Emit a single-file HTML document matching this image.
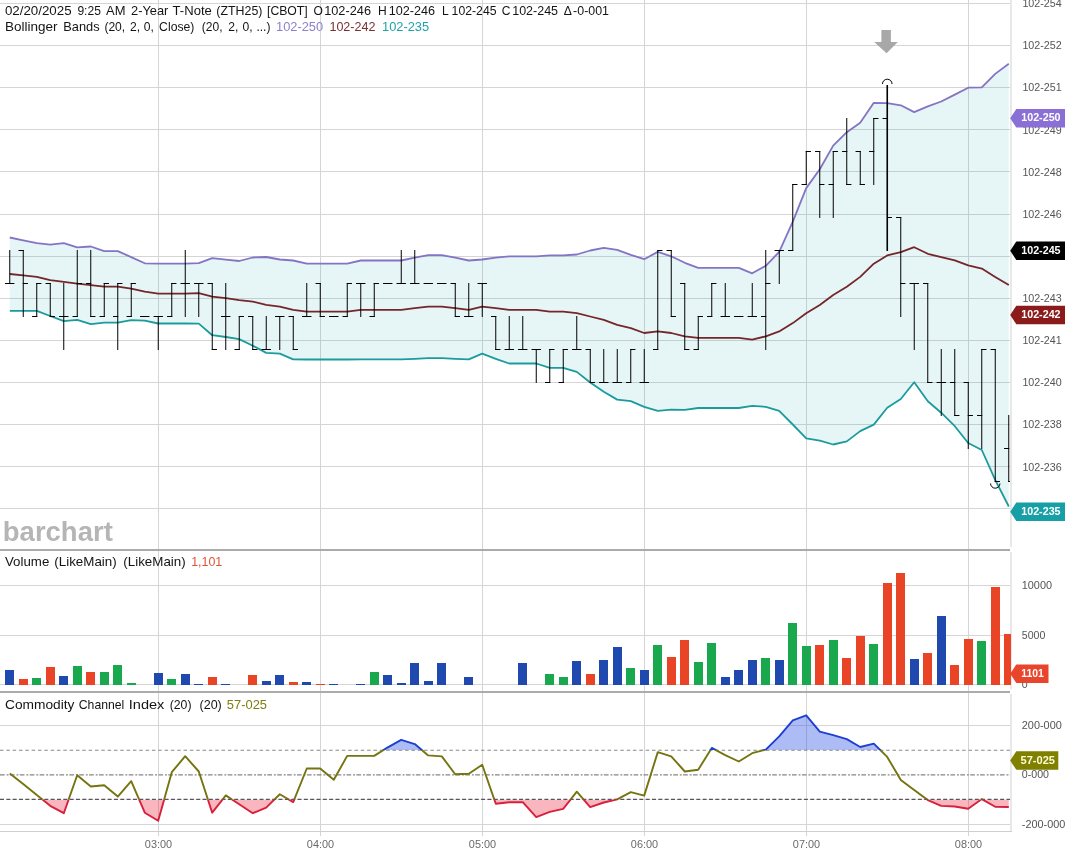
<!DOCTYPE html><html><head><meta charset="utf-8"><title>2-Year T-Note (ZTH25) Chart</title>
<style>html,body{margin:0;padding:0;background:#fff;}body{width:1069px;height:857px;overflow:hidden;}svg{display:block;}text{font-family:"Liberation Sans", sans-serif;}</style></head><body>
<svg width="1069" height="857" viewBox="0 0 1069 857">
<rect width="1069" height="857" fill="#ffffff"/>
<defs><clipPath id="cm"><rect x="0" y="0" width="1010" height="549"/></clipPath><clipPath id="cv"><rect x="0" y="551" width="1011" height="140"/></clipPath><clipPath id="cc"><rect x="0" y="693" width="1010" height="138"/></clipPath></defs>
<g shape-rendering="crispEdges" stroke="#d5d5d5" stroke-width="1"><line x1="0" x2="1011" y1="3.5" y2="3.5"/><line x1="0" x2="1011" y1="45.5" y2="45.5"/><line x1="0" x2="1011" y1="87.5" y2="87.5"/><line x1="0" x2="1011" y1="129.5" y2="129.5"/><line x1="0" x2="1011" y1="171.5" y2="171.5"/><line x1="0" x2="1011" y1="214.5" y2="214.5"/><line x1="0" x2="1011" y1="256.5" y2="256.5"/><line x1="0" x2="1011" y1="298.5" y2="298.5"/><line x1="0" x2="1011" y1="340.5" y2="340.5"/><line x1="0" x2="1011" y1="382.5" y2="382.5"/><line x1="0" x2="1011" y1="424.5" y2="424.5"/><line x1="0" x2="1011" y1="466.5" y2="466.5"/><line x1="0" x2="1011" y1="508.5" y2="508.5"/><line x1="158.5" x2="158.5" y1="0" y2="836"/><line x1="320.5" x2="320.5" y1="0" y2="836"/><line x1="482.5" x2="482.5" y1="0" y2="836"/><line x1="644.5" x2="644.5" y1="0" y2="836"/><line x1="806.5" x2="806.5" y1="0" y2="836"/><line x1="968.5" x2="968.5" y1="0" y2="836"/><line x1="0" x2="1011" y1="585.5" y2="585.5"/><line x1="0" x2="1011" y1="635.5" y2="635.5"/><line x1="0" x2="1011" y1="684.5" y2="684.5"/><line x1="0" x2="1011" y1="725.5" y2="725.5"/><line x1="0" x2="1011" y1="824.5" y2="824.5"/></g>
<polygon points="9.8,237.5 23.2,240.3 36.8,243.1 50.2,244.6 63.8,243.1 77.2,247.4 90.8,246.5 104.2,251.1 117.8,251.1 131.2,257.1 144.8,263.3 158.2,263.7 171.8,263.7 185.2,263.7 198.8,263.1 212.2,258.2 225.8,259.6 239.2,261.0 252.8,257.5 266.2,257.0 279.8,259.5 293.2,260.5 306.8,263.6 320.2,263.6 333.8,263.6 347.2,263.6 360.8,260.5 374.2,260.5 387.8,260.5 401.2,260.5 414.8,257.7 428.2,255.1 441.8,255.1 455.2,257.7 468.8,260.5 482.2,259.5 495.8,257.7 509.2,256.3 522.8,256.3 536.2,256.3 549.8,255.3 563.2,255.3 576.8,254.5 590.2,250.5 603.8,247.8 617.2,249.9 630.8,254.9 644.2,259.2 657.8,251.9 671.2,256.3 684.8,262.8 698.2,267.9 711.8,267.9 725.2,267.9 738.8,267.9 752.2,273.3 765.8,265.8 779.2,251.9 792.8,221.7 806.2,188.1 819.8,169.2 833.2,145.6 846.8,132.2 860.2,122.7 873.8,102.8 887.2,103.1 900.8,105.3 914.2,112.1 927.8,106.4 941.2,101.5 954.8,94.6 968.2,87.7 981.8,87.3 995.2,73.9 1008.8,63.8 1008.8,506.5 995.2,479.9 981.8,450.0 968.2,443.0 954.8,426.2 941.2,412.7 927.8,401.2 914.2,382.3 900.8,399.0 887.2,407.8 873.8,424.6 860.2,431.1 846.8,441.4 833.2,444.5 819.8,440.7 806.2,438.3 792.8,424.5 779.2,410.8 765.8,406.8 752.2,405.9 738.8,408.0 725.2,408.0 711.8,408.0 698.2,408.0 684.8,409.8 671.2,409.7 657.8,410.8 644.2,406.8 630.8,401.2 617.2,399.6 603.8,391.8 590.2,382.5 576.8,371.9 563.2,367.8 549.8,367.8 536.2,363.5 522.8,363.5 509.2,363.5 495.8,358.8 482.2,353.7 468.8,359.3 455.2,358.8 441.8,358.1 428.2,358.1 414.8,358.8 401.2,359.3 387.8,359.3 374.2,359.3 360.8,359.3 347.2,359.5 333.8,359.5 320.2,359.5 306.8,359.5 293.2,359.3 279.8,353.7 266.2,352.9 252.8,345.7 239.2,339.1 225.8,337.0 212.2,335.2 198.8,323.6 185.2,323.5 171.8,323.5 158.2,323.5 144.8,320.7 131.2,320.2 117.8,322.6 104.2,322.6 90.8,324.1 77.2,319.8 63.8,321.1 50.2,316.0 36.8,310.8 23.2,310.8 9.8,310.8" fill="#1aa0aa" fill-opacity="0.11" clip-path="url(#cm)"/>
<g shape-rendering="crispEdges"><rect x="1010" y="0" width="2" height="547" fill="#e8e8e8"/><rect x="1010" y="552" width="2" height="137" fill="#e8e8e8"/><rect x="1010" y="694" width="2" height="138" fill="#e8e8e8"/><rect x="0" y="549" width="1010" height="2" fill="#ababab"/><rect x="0" y="691" width="1010" height="2" fill="#ababab"/><rect x="0" y="831" width="1012" height="1" fill="#cfcfcf"/></g>
<g clip-path="url(#cm)">
<polyline points="9.8,237.5 23.2,240.3 36.8,243.1 50.2,244.6 63.8,243.1 77.2,247.4 90.8,246.5 104.2,251.1 117.8,251.1 131.2,257.1 144.8,263.3 158.2,263.7 171.8,263.7 185.2,263.7 198.8,263.1 212.2,258.2 225.8,259.6 239.2,261.0 252.8,257.5 266.2,257.0 279.8,259.5 293.2,260.5 306.8,263.6 320.2,263.6 333.8,263.6 347.2,263.6 360.8,260.5 374.2,260.5 387.8,260.5 401.2,260.5 414.8,257.7 428.2,255.1 441.8,255.1 455.2,257.7 468.8,260.5 482.2,259.5 495.8,257.7 509.2,256.3 522.8,256.3 536.2,256.3 549.8,255.3 563.2,255.3 576.8,254.5 590.2,250.5 603.8,247.8 617.2,249.9 630.8,254.9 644.2,259.2 657.8,251.9 671.2,256.3 684.8,262.8 698.2,267.9 711.8,267.9 725.2,267.9 738.8,267.9 752.2,273.3 765.8,265.8 779.2,251.9 792.8,221.7 806.2,188.1 819.8,169.2 833.2,145.6 846.8,132.2 860.2,122.7 873.8,102.8 887.2,103.1 900.8,105.3 914.2,112.1 927.8,106.4 941.2,101.5 954.8,94.6 968.2,87.7 981.8,87.3 995.2,73.9 1008.8,63.8" fill="none" stroke="#8374c4" stroke-width="1.8" stroke-linejoin="round" />
<polyline points="9.8,274.0 23.2,275.3 36.8,276.8 50.2,280.1 63.8,281.8 77.2,283.7 90.8,285.2 104.2,286.7 117.8,286.7 131.2,288.6 144.8,291.7 158.2,293.6 171.8,293.6 185.2,293.6 198.8,293.2 212.2,296.7 225.8,298.1 239.2,300.2 252.8,301.6 266.2,304.9 279.8,306.6 293.2,309.9 306.8,311.6 320.2,311.6 333.8,311.6 347.2,311.6 360.8,309.9 374.2,309.9 387.8,309.9 401.2,309.9 414.8,308.2 428.2,306.6 441.8,306.6 455.2,308.2 468.8,309.9 482.2,306.6 495.8,308.2 509.2,309.9 522.8,309.9 536.2,309.9 549.8,311.6 563.2,311.6 576.8,313.2 590.2,316.5 603.8,319.8 617.2,324.8 630.8,328.1 644.2,333.0 657.8,331.4 671.2,333.0 684.8,336.3 698.2,337.9 711.8,337.9 725.2,337.9 738.8,337.9 752.2,339.6 765.8,336.3 779.2,331.4 792.8,323.1 806.2,313.2 819.8,304.9 833.2,295.1 846.8,286.8 860.2,276.9 873.8,263.7 887.2,255.4 900.8,252.2 914.2,247.2 927.8,253.8 941.2,257.1 954.8,260.4 968.2,265.4 981.8,268.6 995.2,276.9 1008.8,285.1" fill="none" stroke="#75262b" stroke-width="1.8" stroke-linejoin="round" />
<polyline points="9.8,310.8 23.2,310.8 36.8,310.8 50.2,316.0 63.8,321.1 77.2,319.8 90.8,324.1 104.2,322.6 117.8,322.6 131.2,320.2 144.8,320.7 158.2,323.5 171.8,323.5 185.2,323.5 198.8,323.6 212.2,335.2 225.8,337.0 239.2,339.1 252.8,345.7 266.2,352.9 279.8,353.7 293.2,359.3 306.8,359.5 320.2,359.5 333.8,359.5 347.2,359.5 360.8,359.3 374.2,359.3 387.8,359.3 401.2,359.3 414.8,358.8 428.2,358.1 441.8,358.1 455.2,358.8 468.8,359.3 482.2,353.7 495.8,358.8 509.2,363.5 522.8,363.5 536.2,363.5 549.8,367.8 563.2,367.8 576.8,371.9 590.2,382.5 603.8,391.8 617.2,399.6 630.8,401.2 644.2,406.8 657.8,410.8 671.2,409.7 684.8,409.8 698.2,408.0 711.8,408.0 725.2,408.0 738.8,408.0 752.2,405.9 765.8,406.8 779.2,410.8 792.8,424.5 806.2,438.3 819.8,440.7 833.2,444.5 846.8,441.4 860.2,431.1 873.8,424.6 887.2,407.8 900.8,399.0 914.2,382.3 927.8,401.2 941.2,412.7 954.8,426.2 968.2,443.0 981.8,450.0 995.2,479.9 1008.8,506.5" fill="none" stroke="#1b9b9c" stroke-width="1.8" stroke-linejoin="round" />
<path d="M9.75 250.0V284.0M5.05 283.5H10.25M9.25 283.5H14.45M23.25 250.0V317.0M18.55 250.5H23.75M22.75 283.5H27.95M36.75 283.0V317.0M32.05 316.5H37.25M36.25 283.5H41.45M50.25 283.0V317.0M45.55 283.5H50.75M49.75 316.5H54.95M63.75 283.0V350.0M59.05 316.5H64.25M63.25 316.5H68.45M77.25 250.0V317.0M72.55 316.5H77.75M76.75 283.5H81.95M90.75 250.0V317.0M86.05 283.5H91.25M90.25 316.5H95.45M104.25 283.0V317.0M99.55 316.5H104.75M103.75 283.5H108.95M117.75 283.0V350.0M113.05 316.5H118.25M117.25 283.5H122.45M131.25 283.0V317.0M126.55 316.5H131.75M130.75 283.5H135.95M140.05 316.5H145.25M144.25 316.5H149.45M158.25 316.0V350.0M153.55 316.5H158.75M157.75 316.5H162.95M171.75 283.0V317.0M167.05 316.5H172.25M171.25 283.5H176.45M185.25 250.0V317.0M180.55 283.5H185.75M184.75 283.5H189.95M198.75 283.0V317.0M194.05 283.5H199.25M198.25 283.5H203.45M212.25 283.0V350.0M207.55 283.5H212.75M211.75 349.5H216.95M225.75 283.0V350.0M221.05 316.5H226.25M225.25 316.5H230.45M239.25 316.0V350.0M234.55 349.5H239.75M238.75 316.5H243.95M252.75 316.0V350.0M248.05 316.5H253.25M252.25 349.5H257.45M266.25 316.0V350.0M261.55 349.5H266.75M265.75 349.5H270.95M279.75 316.0V350.0M275.05 316.5H280.25M279.25 316.5H284.45M293.25 316.0V350.0M288.55 316.5H293.75M292.75 349.5H297.95M306.75 283.0V317.0M302.05 316.5H307.25M306.25 316.5H311.45M320.25 283.0V317.0M315.55 283.5H320.75M319.75 316.5H324.95M329.05 316.5H334.25M333.25 316.5H338.45M347.25 283.0V317.0M342.55 316.5H347.75M346.75 283.5H351.95M360.75 283.0V317.0M356.05 283.5H361.25M360.25 283.5H365.45M374.25 283.0V317.0M369.55 316.5H374.75M373.75 283.5H378.95M383.05 283.5H388.25M387.25 283.5H392.45M401.25 250.0V284.0M396.55 283.5H401.75M400.75 283.5H405.95M414.75 250.0V284.0M410.05 283.5H415.25M414.25 283.5H419.45M423.55 283.5H428.75M427.75 283.5H432.95M437.05 283.5H442.25M441.25 283.5H446.45M455.25 283.0V317.0M450.55 283.5H455.75M454.75 316.5H459.95M468.75 283.0V317.0M464.05 316.5H469.25M468.25 316.5H473.45M482.25 283.0V317.0M477.55 283.5H482.75M481.75 283.5H486.95M495.75 316.0V350.0M491.05 316.5H496.25M495.25 349.5H500.45M509.25 316.0V350.0M504.55 349.5H509.75M508.75 349.5H513.95M522.75 316.0V350.0M518.05 349.5H523.25M522.25 349.5H527.45M536.25 349.0V383.0M531.55 349.5H536.75M535.75 349.5H540.95M549.75 349.0V383.0M545.05 382.5H550.25M549.25 349.5H554.45M563.25 349.0V383.0M558.55 382.5H563.75M562.75 349.5H567.95M576.75 316.0V350.0M572.05 349.5H577.25M576.25 349.5H581.45M590.25 349.0V383.0M585.55 349.5H590.75M589.75 382.5H594.95M603.75 349.0V383.0M599.05 382.5H604.25M603.25 382.5H608.45M617.25 349.0V383.0M612.55 382.5H617.75M616.75 382.5H621.95M630.75 349.0V383.0M626.05 382.5H631.25M630.25 349.5H635.45M644.25 349.0V383.0M639.55 382.5H644.75M643.75 382.5H648.95M657.75 250.0V350.0M653.05 349.5H658.25M657.25 250.5H662.45M671.25 250.0V317.0M666.55 250.5H671.75M670.75 316.5H675.95M684.75 283.0V350.0M680.05 283.5H685.25M684.25 349.5H689.45M698.25 316.0V350.0M693.55 349.5H698.75M697.75 316.5H702.95M711.75 283.0V317.0M707.05 316.5H712.25M711.25 283.5H716.45M725.25 283.0V317.0M720.55 316.5H725.75M724.75 316.5H729.95M734.05 316.5H739.25M738.25 316.5H743.45M752.25 283.0V317.0M747.55 316.5H752.75M751.75 316.5H756.95M765.75 250.0V350.0M761.05 316.5H766.25M765.25 283.5H770.45M779.25 250.0V284.0M774.55 250.5H779.75M778.75 250.5H783.95M792.75 184.0V251.0M788.05 250.5H793.25M792.25 184.5H797.45M806.25 151.0V185.0M801.55 184.5H806.75M805.75 151.5H810.95M819.75 151.0V218.0M815.05 151.5H820.25M819.25 184.5H824.45M833.25 151.0V218.0M828.55 184.5H833.75M832.75 151.5H837.95M846.75 118.0V185.0M842.05 151.5H847.25M846.25 184.5H851.45M860.25 151.0V185.0M855.55 151.5H860.75M859.75 184.5H864.95M873.75 118.0V185.0M869.05 151.5H874.25M873.25 118.5H878.45M900.75 217.0V317.0M896.05 217.5H901.25M900.25 283.5H905.45M914.25 283.0V350.0M909.55 283.5H914.75M913.75 283.5H918.95M927.75 283.0V383.0M923.05 283.5H928.25M927.25 382.5H932.45M941.25 349.0V416.0M936.55 382.5H941.75M940.75 382.5H945.95M954.75 349.0V416.0M950.05 382.5H955.25M954.25 415.5H959.45M968.25 382.0V449.0M963.55 382.5H968.75M967.75 415.5H972.95M981.75 349.0V449.0M977.05 415.5H982.25M981.25 349.5H986.45M995.25 349.0V482.0M990.55 349.5H995.75M994.75 481.5H999.95M1008.75 415.0V482.0M1004.05 448.5H1009.25M1008.25 481.5H1013.45" stroke="#000" stroke-width="1" fill="none"/>
<path d="M887.25 85.0V251.0" stroke="#000" stroke-width="1.6" fill="none"/>
<path d="M882.55 118.5H887.25M887.25 217.5H891.95" stroke="#000" stroke-width="1" fill="none"/>
<path d="M882.45 84A4.8 4.8 0 0 1 892.05 84" stroke="#000" stroke-width="1" fill="none"/>
<path d="M990.55 483.5A4.7 4.7 0 0 0 999.95 483.5" stroke="#000" stroke-width="1" fill="none"/>
</g>
<path d="M881.4 30H890.9V42H897.8L886.6 53.2L874.2 42H881.4Z" fill="#a8a8a8"/>
<text x="2.8" y="540.7" font-size="28" font-weight="bold" fill="#b5b5b5" textLength="110" lengthAdjust="spacingAndGlyphs">barchart</text>
<g clip-path="url(#cv)" shape-rendering="crispEdges">
<rect x="5.00" y="669.8" width="9" height="15.2" fill="#2049b0"/>
<rect x="19.00" y="678.6" width="9" height="6.4" fill="#ea4427"/>
<rect x="32.00" y="677.8" width="9" height="7.2" fill="#1aa84e"/>
<rect x="46.00" y="666.7" width="9" height="18.3" fill="#ea4427"/>
<rect x="59.00" y="675.8" width="9" height="9.2" fill="#2049b0"/>
<rect x="73.00" y="666.0" width="9" height="19.0" fill="#1aa84e"/>
<rect x="86.00" y="672.3" width="9" height="12.7" fill="#ea4427"/>
<rect x="100.00" y="672.3" width="9" height="12.7" fill="#1aa84e"/>
<rect x="113.00" y="664.7" width="9" height="20.3" fill="#1aa84e"/>
<rect x="127.00" y="683.2" width="9" height="1.8" fill="#1aa84e"/>
<rect x="140.00" y="684.5" width="9" height="0.5" fill="#2049b0"/>
<rect x="154.00" y="672.8" width="9" height="12.2" fill="#2049b0"/>
<rect x="167.00" y="679.4" width="9" height="5.6" fill="#1aa84e"/>
<rect x="181.00" y="674.3" width="9" height="10.7" fill="#2049b0"/>
<rect x="194.00" y="683.5" width="9" height="1.5" fill="#2049b0"/>
<rect x="208.00" y="677.1" width="9" height="7.9" fill="#ea4427"/>
<rect x="221.00" y="683.5" width="9" height="1.5" fill="#2049b0"/>
<rect x="235.00" y="684.5" width="9" height="0.5" fill="#1aa84e"/>
<rect x="248.00" y="674.8" width="9" height="10.2" fill="#ea4427"/>
<rect x="262.00" y="680.6" width="9" height="4.4" fill="#2049b0"/>
<rect x="275.00" y="674.8" width="9" height="10.2" fill="#2049b0"/>
<rect x="289.00" y="682.1" width="9" height="2.9" fill="#ea4427"/>
<rect x="302.00" y="682.1" width="9" height="2.9" fill="#2049b0"/>
<rect x="316.00" y="684.2" width="9" height="0.8" fill="#ea4427"/>
<rect x="329.00" y="684.2" width="9" height="0.8" fill="#2049b0"/>
<rect x="343.00" y="684.5" width="9" height="0.5" fill="#1aa84e"/>
<rect x="356.00" y="684.0" width="9" height="1.0" fill="#2049b0"/>
<rect x="370.00" y="672.3" width="9" height="12.7" fill="#1aa84e"/>
<rect x="383.00" y="675.3" width="9" height="9.7" fill="#2049b0"/>
<rect x="397.00" y="683.2" width="9" height="1.8" fill="#2049b0"/>
<rect x="410.00" y="663.4" width="9" height="21.6" fill="#2049b0"/>
<rect x="424.00" y="681.1" width="9" height="3.9" fill="#2049b0"/>
<rect x="437.00" y="663.2" width="9" height="21.8" fill="#2049b0"/>
<rect x="451.00" y="684.5" width="9" height="0.5" fill="#ea4427"/>
<rect x="464.00" y="677.3" width="9" height="7.7" fill="#2049b0"/>
<rect x="478.00" y="684.7" width="9" height="0.3" fill="#2049b0"/>
<rect x="491.00" y="684.5" width="9" height="0.5" fill="#ea4427"/>
<rect x="505.00" y="684.7" width="9" height="0.3" fill="#2049b0"/>
<rect x="518.00" y="662.7" width="9" height="22.3" fill="#2049b0"/>
<rect x="532.00" y="684.7" width="9" height="0.3" fill="#2049b0"/>
<rect x="545.00" y="673.8" width="9" height="11.2" fill="#1aa84e"/>
<rect x="559.00" y="677.3" width="9" height="7.7" fill="#1aa84e"/>
<rect x="572.00" y="661.2" width="9" height="23.8" fill="#2049b0"/>
<rect x="586.00" y="673.8" width="9" height="11.2" fill="#ea4427"/>
<rect x="599.00" y="659.9" width="9" height="25.1" fill="#2049b0"/>
<rect x="613.00" y="647.3" width="9" height="37.7" fill="#2049b0"/>
<rect x="626.00" y="667.7" width="9" height="17.3" fill="#1aa84e"/>
<rect x="640.00" y="670.0" width="9" height="15.0" fill="#2049b0"/>
<rect x="653.00" y="645.2" width="9" height="39.8" fill="#1aa84e"/>
<rect x="667.00" y="656.6" width="9" height="28.4" fill="#ea4427"/>
<rect x="680.00" y="640.2" width="9" height="44.8" fill="#ea4427"/>
<rect x="694.00" y="661.9" width="9" height="23.1" fill="#1aa84e"/>
<rect x="707.00" y="642.7" width="9" height="42.3" fill="#1aa84e"/>
<rect x="721.00" y="677.3" width="9" height="7.7" fill="#2049b0"/>
<rect x="734.00" y="670.3" width="9" height="14.7" fill="#2049b0"/>
<rect x="748.00" y="659.9" width="9" height="25.1" fill="#2049b0"/>
<rect x="761.00" y="657.6" width="9" height="27.4" fill="#1aa84e"/>
<rect x="775.00" y="660.0" width="9" height="25.0" fill="#2049b0"/>
<rect x="788.00" y="622.9" width="9" height="62.1" fill="#1aa84e"/>
<rect x="802.00" y="645.8" width="9" height="39.2" fill="#1aa84e"/>
<rect x="815.00" y="645.0" width="9" height="40.0" fill="#ea4427"/>
<rect x="829.00" y="640.2" width="9" height="44.8" fill="#1aa84e"/>
<rect x="842.00" y="658.1" width="9" height="26.9" fill="#ea4427"/>
<rect x="856.00" y="636.0" width="9" height="49.0" fill="#ea4427"/>
<rect x="869.00" y="644.1" width="9" height="40.9" fill="#1aa84e"/>
<rect x="883.00" y="582.9" width="9" height="102.1" fill="#ea4427"/>
<rect x="896.00" y="572.8" width="9" height="112.2" fill="#ea4427"/>
<rect x="910.00" y="659.2" width="9" height="25.8" fill="#2049b0"/>
<rect x="923.00" y="653.4" width="9" height="31.6" fill="#ea4427"/>
<rect x="937.00" y="615.6" width="9" height="69.4" fill="#2049b0"/>
<rect x="950.00" y="665.1" width="9" height="19.9" fill="#ea4427"/>
<rect x="964.00" y="639.1" width="9" height="45.9" fill="#ea4427"/>
<rect x="977.00" y="640.8" width="9" height="44.2" fill="#1aa84e"/>
<rect x="991.00" y="587.3" width="9" height="97.7" fill="#ea4427"/>
<rect x="1004.00" y="633.8" width="9" height="51.2" fill="#ea4427"/>
</g>
<defs><clipPath id="cup"><rect x="0" y="693" width="1010" height="57.1"/></clipPath><clipPath id="cdn"><rect x="0" y="799.4" width="1010" height="31.6"/></clipPath><clipPath id="cmid"><rect x="0" y="750.1" width="1010" height="49.3"/></clipPath></defs>
<polygon points="9.8,750.1 9.8,773.5 23.2,784.1 36.8,794.9 50.2,805.8 63.8,813.2 77.2,775.2 90.8,786.5 104.2,785.3 117.8,796.6 131.2,781.1 144.8,812.7 158.2,820.8 171.8,772.2 185.2,756.2 198.8,771.5 212.2,812.7 225.8,795.4 239.2,804.3 252.8,813.2 266.2,807.6 279.8,794.2 293.2,802.1 306.8,768.5 320.2,768.5 333.8,779.8 347.2,755.9 360.8,755.9 374.2,755.9 387.8,747.3 401.2,739.8 414.8,744.1 428.2,755.4 441.8,756.4 455.2,774.2 468.8,773.7 482.2,764.7 495.8,803.8 509.2,802.2 522.8,802.2 536.2,817.1 549.8,811.9 563.2,808.9 576.8,791.7 590.2,807.1 603.8,802.5 617.2,799.4 630.8,792.1 644.2,795.6 657.8,752.1 671.2,756.3 684.8,771.5 698.2,769.8 711.8,747.9 725.2,755.1 738.8,761.5 752.2,753.2 765.8,749.6 779.2,736.4 792.8,720.3 806.2,715.3 819.8,731.7 833.2,735.2 846.8,739.1 860.2,747.0 873.8,743.6 887.2,756.9 900.8,780.0 914.2,790.1 927.8,800.1 941.2,805.9 954.8,806.5 968.2,808.8 981.8,799.1 995.2,806.8 1008.8,807.0 1008.8,750.1" fill="#2a50e8" fill-opacity="0.38" clip-path="url(#cup)"/>
<polygon points="9.8,799.4 9.8,773.5 23.2,784.1 36.8,794.9 50.2,805.8 63.8,813.2 77.2,775.2 90.8,786.5 104.2,785.3 117.8,796.6 131.2,781.1 144.8,812.7 158.2,820.8 171.8,772.2 185.2,756.2 198.8,771.5 212.2,812.7 225.8,795.4 239.2,804.3 252.8,813.2 266.2,807.6 279.8,794.2 293.2,802.1 306.8,768.5 320.2,768.5 333.8,779.8 347.2,755.9 360.8,755.9 374.2,755.9 387.8,747.3 401.2,739.8 414.8,744.1 428.2,755.4 441.8,756.4 455.2,774.2 468.8,773.7 482.2,764.7 495.8,803.8 509.2,802.2 522.8,802.2 536.2,817.1 549.8,811.9 563.2,808.9 576.8,791.7 590.2,807.1 603.8,802.5 617.2,799.4 630.8,792.1 644.2,795.6 657.8,752.1 671.2,756.3 684.8,771.5 698.2,769.8 711.8,747.9 725.2,755.1 738.8,761.5 752.2,753.2 765.8,749.6 779.2,736.4 792.8,720.3 806.2,715.3 819.8,731.7 833.2,735.2 846.8,739.1 860.2,747.0 873.8,743.6 887.2,756.9 900.8,780.0 914.2,790.1 927.8,800.1 941.2,805.9 954.8,806.5 968.2,808.8 981.8,799.1 995.2,806.8 1008.8,807.0 1008.8,799.4" fill="#f0203a" fill-opacity="0.33" clip-path="url(#cdn)"/>
<line x1="0" x2="1010" y1="750.2" y2="750.2" stroke="#888888" stroke-width="1.1" stroke-dasharray="3.5 2.83"/>
<line x1="0" x2="1010" y1="799.4" y2="799.4" stroke="#55555e" stroke-width="1.1" stroke-dasharray="4 2.33"/>
<line x1="0" x2="1010" y1="774.9" y2="774.9" stroke="#858585" stroke-width="1.4" stroke-dasharray="4.7 1.9 1.9 1.4"/>
<polyline points="9.8,773.5 23.2,784.1 36.8,794.9 50.2,805.8 63.8,813.2 77.2,775.2 90.8,786.5 104.2,785.3 117.8,796.6 131.2,781.1 144.8,812.7 158.2,820.8 171.8,772.2 185.2,756.2 198.8,771.5 212.2,812.7 225.8,795.4 239.2,804.3 252.8,813.2 266.2,807.6 279.8,794.2 293.2,802.1 306.8,768.5 320.2,768.5 333.8,779.8 347.2,755.9 360.8,755.9 374.2,755.9 387.8,747.3 401.2,739.8 414.8,744.1 428.2,755.4 441.8,756.4 455.2,774.2 468.8,773.7 482.2,764.7 495.8,803.8 509.2,802.2 522.8,802.2 536.2,817.1 549.8,811.9 563.2,808.9 576.8,791.7 590.2,807.1 603.8,802.5 617.2,799.4 630.8,792.1 644.2,795.6 657.8,752.1 671.2,756.3 684.8,771.5 698.2,769.8 711.8,747.9 725.2,755.1 738.8,761.5 752.2,753.2 765.8,749.6 779.2,736.4 792.8,720.3 806.2,715.3 819.8,731.7 833.2,735.2 846.8,739.1 860.2,747.0 873.8,743.6 887.2,756.9 900.8,780.0 914.2,790.1 927.8,800.1 941.2,805.9 954.8,806.5 968.2,808.8 981.8,799.1 995.2,806.8 1008.8,807.0" fill="none" stroke="#747410" stroke-width="1.9" stroke-linejoin="round" clip-path="url(#cmid)"/>
<polyline points="9.8,773.5 23.2,784.1 36.8,794.9 50.2,805.8 63.8,813.2 77.2,775.2 90.8,786.5 104.2,785.3 117.8,796.6 131.2,781.1 144.8,812.7 158.2,820.8 171.8,772.2 185.2,756.2 198.8,771.5 212.2,812.7 225.8,795.4 239.2,804.3 252.8,813.2 266.2,807.6 279.8,794.2 293.2,802.1 306.8,768.5 320.2,768.5 333.8,779.8 347.2,755.9 360.8,755.9 374.2,755.9 387.8,747.3 401.2,739.8 414.8,744.1 428.2,755.4 441.8,756.4 455.2,774.2 468.8,773.7 482.2,764.7 495.8,803.8 509.2,802.2 522.8,802.2 536.2,817.1 549.8,811.9 563.2,808.9 576.8,791.7 590.2,807.1 603.8,802.5 617.2,799.4 630.8,792.1 644.2,795.6 657.8,752.1 671.2,756.3 684.8,771.5 698.2,769.8 711.8,747.9 725.2,755.1 738.8,761.5 752.2,753.2 765.8,749.6 779.2,736.4 792.8,720.3 806.2,715.3 819.8,731.7 833.2,735.2 846.8,739.1 860.2,747.0 873.8,743.6 887.2,756.9 900.8,780.0 914.2,790.1 927.8,800.1 941.2,805.9 954.8,806.5 968.2,808.8 981.8,799.1 995.2,806.8 1008.8,807.0" fill="none" stroke="#1f3fd0" stroke-width="1.9" stroke-linejoin="round" clip-path="url(#cup)"/>
<polyline points="9.8,773.5 23.2,784.1 36.8,794.9 50.2,805.8 63.8,813.2 77.2,775.2 90.8,786.5 104.2,785.3 117.8,796.6 131.2,781.1 144.8,812.7 158.2,820.8 171.8,772.2 185.2,756.2 198.8,771.5 212.2,812.7 225.8,795.4 239.2,804.3 252.8,813.2 266.2,807.6 279.8,794.2 293.2,802.1 306.8,768.5 320.2,768.5 333.8,779.8 347.2,755.9 360.8,755.9 374.2,755.9 387.8,747.3 401.2,739.8 414.8,744.1 428.2,755.4 441.8,756.4 455.2,774.2 468.8,773.7 482.2,764.7 495.8,803.8 509.2,802.2 522.8,802.2 536.2,817.1 549.8,811.9 563.2,808.9 576.8,791.7 590.2,807.1 603.8,802.5 617.2,799.4 630.8,792.1 644.2,795.6 657.8,752.1 671.2,756.3 684.8,771.5 698.2,769.8 711.8,747.9 725.2,755.1 738.8,761.5 752.2,753.2 765.8,749.6 779.2,736.4 792.8,720.3 806.2,715.3 819.8,731.7 833.2,735.2 846.8,739.1 860.2,747.0 873.8,743.6 887.2,756.9 900.8,780.0 914.2,790.1 927.8,800.1 941.2,805.9 954.8,806.5 968.2,808.8 981.8,799.1 995.2,806.8 1008.8,807.0" fill="none" stroke="#d8203c" stroke-width="1.9" stroke-linejoin="round" clip-path="url(#cdn)"/>
<text x="4.9" y="15.0" font-size="13" fill="#141414" textLength="66.7" lengthAdjust="spacingAndGlyphs">02/20/2025</text>
<text x="77.4" y="15.0" font-size="13" fill="#141414" textLength="23.5" lengthAdjust="spacingAndGlyphs">9:25</text>
<text x="106.0" y="15.0" font-size="13" fill="#141414" textLength="19.4" lengthAdjust="spacingAndGlyphs">AM</text>
<text x="131.0" y="15.0" font-size="13" fill="#141414" textLength="37.4" lengthAdjust="spacingAndGlyphs">2-Year</text>
<text x="172.6" y="15.0" font-size="13" fill="#141414" textLength="39.2" lengthAdjust="spacingAndGlyphs">T-Note</text>
<text x="216.3" y="15.0" font-size="13" fill="#141414" textLength="46.1" lengthAdjust="spacingAndGlyphs">(ZTH25)</text>
<text x="267.0" y="15.0" font-size="13" fill="#141414" textLength="40.7" lengthAdjust="spacingAndGlyphs">[CBOT]</text>
<text x="313.4" y="15.0" font-size="13" fill="#141414" textLength="9.4" lengthAdjust="spacingAndGlyphs">O</text>
<text x="324.2" y="15.0" font-size="13" fill="#141414" textLength="46.8" lengthAdjust="spacingAndGlyphs">102-246</text>
<text x="378.0" y="15.0" font-size="13" fill="#141414" textLength="8.7" lengthAdjust="spacingAndGlyphs">H</text>
<text x="388.7" y="15.0" font-size="13" fill="#141414" textLength="46.4" lengthAdjust="spacingAndGlyphs">102-246</text>
<text x="441.9" y="15.0" font-size="13" fill="#141414" textLength="6.7" lengthAdjust="spacingAndGlyphs">L</text>
<text x="451.6" y="15.0" font-size="13" fill="#141414" textLength="44.9" lengthAdjust="spacingAndGlyphs">102-245</text>
<text x="501.8" y="15.0" font-size="13" fill="#141414" textLength="8.7" lengthAdjust="spacingAndGlyphs">C</text>
<text x="512.2" y="15.0" font-size="13" fill="#141414" textLength="45.9" lengthAdjust="spacingAndGlyphs">102-245</text>
<text x="563.8" y="15.0" font-size="13" fill="#141414" textLength="8.1" lengthAdjust="spacingAndGlyphs">Δ</text>
<text x="573.1" y="15.0" font-size="13" fill="#141414" textLength="35.9" lengthAdjust="spacingAndGlyphs">-0-001</text>
<text x="5.0" y="30.7" font-size="13" fill="#141414" textLength="52.4" lengthAdjust="spacingAndGlyphs">Bollinger</text>
<text x="63.3" y="30.7" font-size="13" fill="#141414" textLength="36.3" lengthAdjust="spacingAndGlyphs">Bands</text>
<text x="104.4" y="30.7" font-size="13" fill="#141414" textLength="20.8" lengthAdjust="spacingAndGlyphs">(20,</text>
<text x="129.9" y="30.7" font-size="13" fill="#141414" textLength="10.1" lengthAdjust="spacingAndGlyphs">2,</text>
<text x="143.8" y="30.7" font-size="13" fill="#141414" textLength="10.1" lengthAdjust="spacingAndGlyphs">0,</text>
<text x="159.1" y="30.7" font-size="13" fill="#141414" textLength="35.3" lengthAdjust="spacingAndGlyphs">Close)</text>
<text x="201.8" y="30.7" font-size="13" fill="#141414" textLength="20.8" lengthAdjust="spacingAndGlyphs">(20,</text>
<text x="228.3" y="30.7" font-size="13" fill="#141414" textLength="10.1" lengthAdjust="spacingAndGlyphs">2,</text>
<text x="242.5" y="30.7" font-size="13" fill="#141414" textLength="10.1" lengthAdjust="spacingAndGlyphs">0,</text>
<text x="256.4" y="30.7" font-size="13" fill="#141414" textLength="14.1" lengthAdjust="spacingAndGlyphs">...)</text>
<text x="276.0" y="30.7" font-size="13" fill="#8d7fcb" textLength="47.1" lengthAdjust="spacingAndGlyphs">102-250</text>
<text x="329.4" y="30.7" font-size="13" fill="#7b2d30" textLength="46.1" lengthAdjust="spacingAndGlyphs">102-242</text>
<text x="382.0" y="30.7" font-size="13" fill="#1da3a6" textLength="47.1" lengthAdjust="spacingAndGlyphs">102-235</text>
<text x="5.0" y="566.3" font-size="13" fill="#141414" textLength="44.3" lengthAdjust="spacingAndGlyphs">Volume</text>
<text x="54.3" y="566.3" font-size="13" fill="#141414" textLength="62.4" lengthAdjust="spacingAndGlyphs">(LikeMain)</text>
<text x="123.3" y="566.3" font-size="13" fill="#141414" textLength="62.4" lengthAdjust="spacingAndGlyphs">(LikeMain)</text>
<text x="191.2" y="566.3" font-size="13" fill="#e0523a" textLength="31.1" lengthAdjust="spacingAndGlyphs">1,101</text>
<text x="5.0" y="708.5" font-size="13" fill="#141414" textLength="69.5" lengthAdjust="spacingAndGlyphs">Commodity</text>
<text x="78.8" y="708.5" font-size="13" fill="#141414" textLength="45.5" lengthAdjust="spacingAndGlyphs">Channel</text>
<text x="128.8" y="708.5" font-size="13" fill="#141414" textLength="35.6" lengthAdjust="spacingAndGlyphs">Index</text>
<text x="169.7" y="708.5" font-size="13" fill="#141414" textLength="21.8" lengthAdjust="spacingAndGlyphs">(20)</text>
<text x="199.5" y="708.5" font-size="13" fill="#141414" textLength="22.3" lengthAdjust="spacingAndGlyphs">(20)</text>
<text x="226.8" y="708.5" font-size="13" fill="#7d7d12" textLength="40.2" lengthAdjust="spacingAndGlyphs">57-025</text>
<text x="1022.4" y="7.2" font-size="10.6" fill="#555" textLength="39.4" lengthAdjust="spacingAndGlyphs">102-254</text>
<text x="1022.4" y="49.3" font-size="10.6" fill="#555" textLength="39.4" lengthAdjust="spacingAndGlyphs">102-252</text>
<text x="1022.4" y="91.4" font-size="10.6" fill="#555" textLength="39.4" lengthAdjust="spacingAndGlyphs">102-251</text>
<text x="1022.4" y="133.6" font-size="10.6" fill="#555" textLength="39.4" lengthAdjust="spacingAndGlyphs">102-249</text>
<text x="1022.4" y="175.7" font-size="10.6" fill="#555" textLength="39.4" lengthAdjust="spacingAndGlyphs">102-248</text>
<text x="1022.4" y="217.8" font-size="10.6" fill="#555" textLength="39.4" lengthAdjust="spacingAndGlyphs">102-246</text>
<text x="1022.4" y="302.0" font-size="10.6" fill="#555" textLength="39.4" lengthAdjust="spacingAndGlyphs">102-243</text>
<text x="1022.4" y="344.2" font-size="10.6" fill="#555" textLength="39.4" lengthAdjust="spacingAndGlyphs">102-241</text>
<text x="1022.4" y="386.3" font-size="10.6" fill="#555" textLength="39.4" lengthAdjust="spacingAndGlyphs">102-240</text>
<text x="1022.4" y="428.4" font-size="10.6" fill="#555" textLength="39.4" lengthAdjust="spacingAndGlyphs">102-238</text>
<text x="1022.4" y="470.5" font-size="10.6" fill="#555" textLength="39.4" lengthAdjust="spacingAndGlyphs">102-236</text>
<text x="1021.8" y="589.3" font-size="10.6" fill="#555" textLength="30.2" lengthAdjust="spacingAndGlyphs">10000</text>
<text x="1021.8" y="639.3" font-size="10.6" fill="#555" textLength="23.6" lengthAdjust="spacingAndGlyphs">5000</text>
<text x="1021.8" y="688.3" font-size="10.6" fill="#555" textLength="5.9" lengthAdjust="spacingAndGlyphs">0</text>
<text x="1021.8" y="729.3" font-size="10.6" fill="#555" textLength="40.0" lengthAdjust="spacingAndGlyphs">200-000</text>
<text x="1021.8" y="778.3" font-size="10.6" fill="#555" textLength="27.2" lengthAdjust="spacingAndGlyphs">0-000</text>
<text x="1021.8" y="828.3" font-size="10.6" fill="#555" textLength="43.5" lengthAdjust="spacingAndGlyphs">-200-000</text>
<text x="158.5" y="847.9" font-size="11" fill="#6a6a6a" textLength="27.3" lengthAdjust="spacingAndGlyphs" text-anchor="middle">03:00</text>
<text x="320.5" y="847.9" font-size="11" fill="#6a6a6a" textLength="27.3" lengthAdjust="spacingAndGlyphs" text-anchor="middle">04:00</text>
<text x="482.5" y="847.9" font-size="11" fill="#6a6a6a" textLength="27.3" lengthAdjust="spacingAndGlyphs" text-anchor="middle">05:00</text>
<text x="644.5" y="847.9" font-size="11" fill="#6a6a6a" textLength="27.3" lengthAdjust="spacingAndGlyphs" text-anchor="middle">06:00</text>
<text x="806.5" y="847.9" font-size="11" fill="#6a6a6a" textLength="27.3" lengthAdjust="spacingAndGlyphs" text-anchor="middle">07:00</text>
<text x="968.5" y="847.9" font-size="11" fill="#6a6a6a" textLength="27.3" lengthAdjust="spacingAndGlyphs" text-anchor="middle">08:00</text>
<path d="M1010.2 118.30L1016.3 109.05H1065.0V127.55H1016.3Z" fill="#8a70d6"/><text x="1021.2" y="121.3" font-size="10.6" fill="#fff" textLength="39.4" lengthAdjust="spacingAndGlyphs" font-weight="bold">102-250</text>
<path d="M1010.2 250.70L1016.3 241.45H1065.0V259.95H1016.3Z" fill="#000000"/><text x="1021.2" y="253.7" font-size="10.6" fill="#fff" textLength="39.4" lengthAdjust="spacingAndGlyphs" font-weight="bold">102-245</text>
<path d="M1010.2 314.90L1016.3 305.65H1065.0V324.15H1016.3Z" fill="#8b1a1a"/><text x="1021.2" y="317.9" font-size="10.6" fill="#fff" textLength="39.4" lengthAdjust="spacingAndGlyphs" font-weight="bold">102-242</text>
<path d="M1010.2 511.75L1016.3 502.50H1065.0V521.00H1016.3Z" fill="#16a0a6"/><text x="1021.2" y="514.8" font-size="10.6" fill="#fff" textLength="39.4" lengthAdjust="spacingAndGlyphs" font-weight="bold">102-235</text>
<path d="M1010.2 673.70L1016.3 664.45H1048.5V682.95H1016.3Z" fill="#e8452c"/><text x="1021.2" y="676.7" font-size="10.6" fill="#fff" textLength="22.6" lengthAdjust="spacingAndGlyphs" font-weight="bold">1101</text>
<path d="M1010.2 760.60L1016.3 751.35H1058.3V769.85H1016.3Z" fill="#7f7f00"/><text x="1020.5" y="763.6" font-size="10.6" fill="#fffbd0" textLength="34.5" lengthAdjust="spacingAndGlyphs" font-weight="bold">57-025</text>
</svg></body></html>
